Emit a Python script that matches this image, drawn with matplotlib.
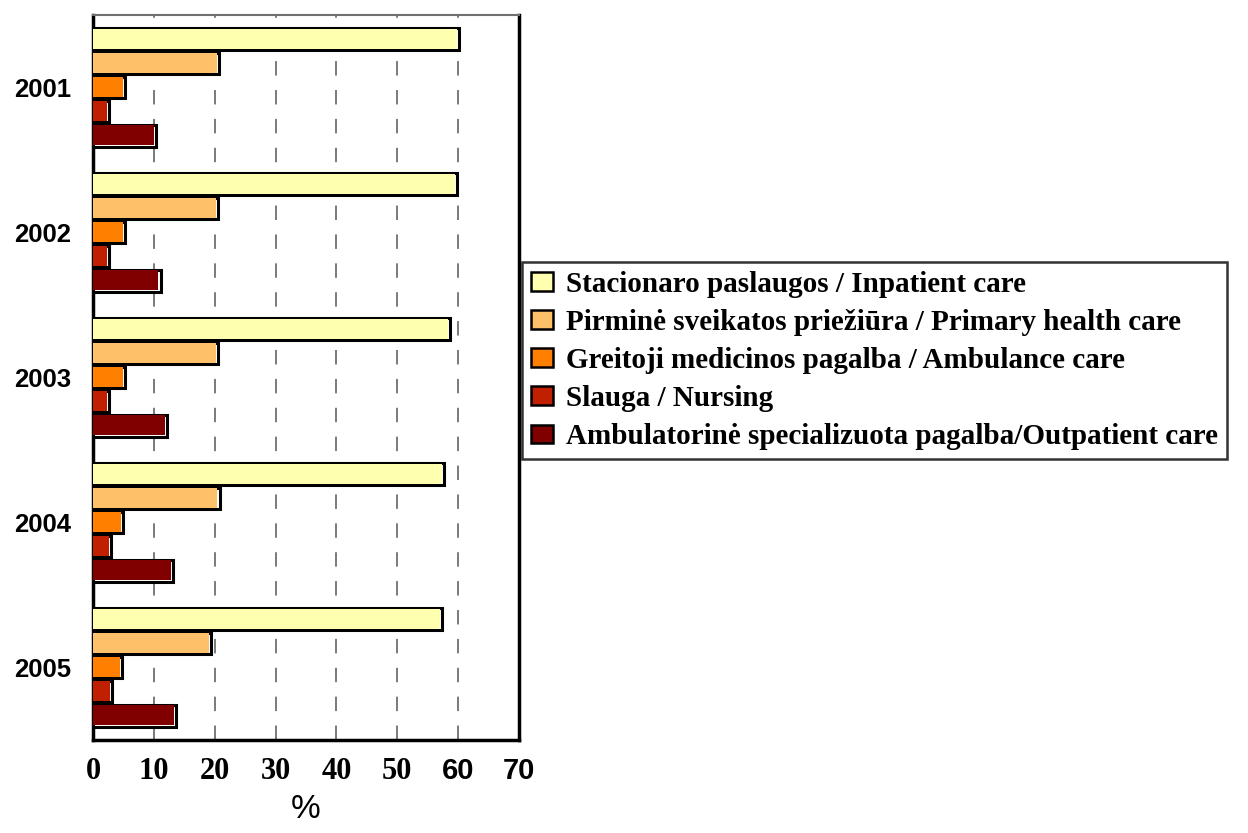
import matplotlib
matplotlib.use("Agg")
import matplotlib.pyplot as plt
import numpy as np
from matplotlib.patches import Patch

years = ["2001", "2002", "2003", "2004", "2005"]
series_names = [
    "Stacionaro paslaugos / Inpatient care",
    "Pirminė sveikatos priežiūra / Primary health care",
    "Greitoji medicinos pagalba / Ambulance care",
    "Slauga / Nursing",
    "Ambulatorinė specializuota pagalba/Outpatient care",
]
inpatient = [60.2, 59.8, 58.7, 57.7, 57.3]
primary = [20.7, 20.5, 20.6, 20.8, 19.4]
ambulance = [5.2, 5.2, 5.2, 5.0, 4.8]
nursing = [2.7, 2.6, 2.7, 2.9, 3.2]
outpatient = [10.4, 11.1, 12.1, 13.1, 13.7]
series = [inpatient, primary, ambulance, nursing, outpatient]
colors = ["#FFFFB0", "#FFC06A", "#FF8000", "#C02000", "#800000"]
xticks = [0, 10, 20, 30, 40, 50, 60, 70]

fig = plt.figure(figsize=(12.48, 8.33), dpi=100)
ax = fig.add_axes([93/1248, 1-740/833, (519-93)/1248, (740-15)/833])

pitch = 0.166
bh = 0.150
y = np.arange(len(years))
for i, (vals, c) in enumerate(zip(series, colors)):
    off = (i - 2) * pitch
    ax.barh(y + off, vals, height=bh, color="white", edgecolor="black", linewidth=2.2, zorder=3)
    ax.barh(y + off - 0.004, np.array(vals) - 0.35, height=bh - 0.012, color=c,
            edgecolor="none", linewidth=0, zorder=3.5)

ax.set_xlim(0, 70)
ax.set_ylim(4.5, -0.5)
ax.set_yticks(y)
ax.set_yticklabels(years, fontsize=18.5, fontweight="bold", family="Liberation Sans")
ax.set_xticks(xticks)
ax.set_xticklabels([str(v) for v in xticks])
for lab, v in zip(ax.get_xticklabels(), xticks):
    if v >= 60:
        lab.set_family("Liberation Sans")
        lab.set_fontsize(21)
    else:
        lab.set_family("Liberation Serif")
        lab.set_fontsize(22)
    lab.set_fontweight("bold")
ax.tick_params(axis="both", length=0)
ax.tick_params(axis="x", pad=12)
ax.tick_params(axis="y", pad=16)
ax.xaxis.grid(True, color="#707070", linestyle=(0, (8, 8)), linewidth=1.3, zorder=0)
ax.set_axisbelow(True)
for s in ["left", "bottom", "right"]:
    ax.spines[s].set_linewidth(2.5)
    ax.spines[s].set_color("black")
ax.spines["top"].set_linewidth(1.5)
ax.spines["top"].set_color("#707070")

ax.set_xlabel("%", fontsize=24, family="Liberation Sans", labelpad=6)

handles = [Patch(facecolor=c, edgecolor="black", linewidth=1.8) for c in colors]
leg = fig.legend(handles, series_names, loc="upper left", bbox_to_anchor=(522/1248, 1-262/833),
                 prop={"family": "Liberation Serif", "weight": "bold", "size": 21},
                 frameon=True, fancybox=False, edgecolor="black", handlelength=0.75,
                 handleheight=0.6, handletextpad=0.45, labelspacing=0.38, borderpad=0.3,
                 borderaxespad=0)
leg.get_frame().set_linewidth(1.8)

fig.savefig("out.png", dpi=100)
